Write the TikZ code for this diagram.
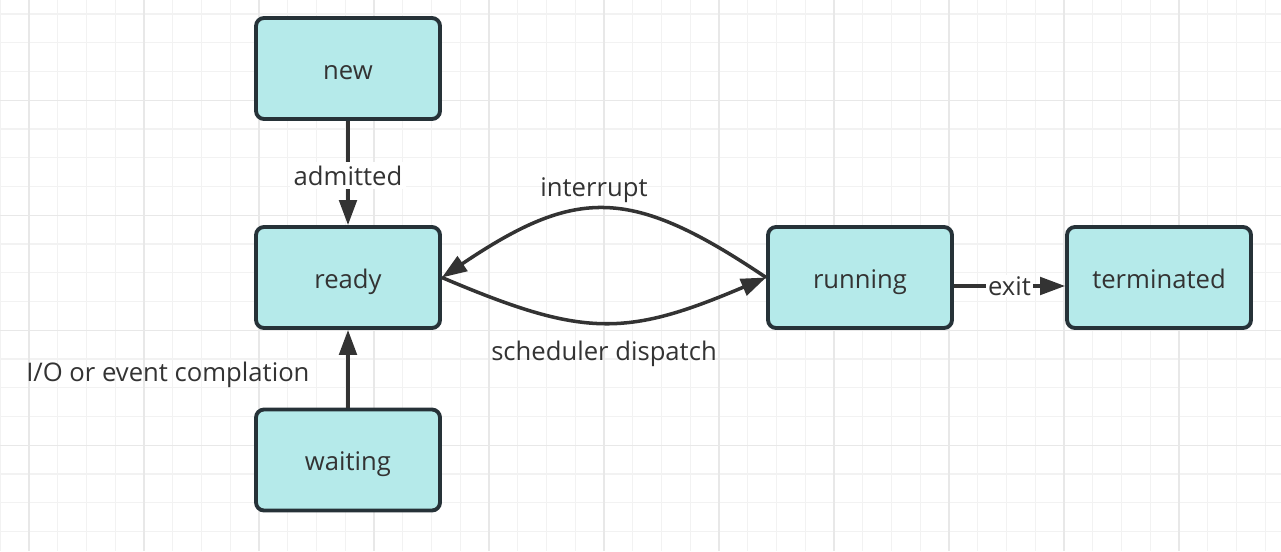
\documentclass[tikz,border=0pt]{standalone}
\usepackage{fontspec}
\setmainfont{Open Sans}
\usetikzlibrary{arrows.meta,positioning}

\definecolor{boxfill}{HTML}{B5EAEA}
\definecolor{boxline}{HTML}{263238}
\definecolor{edgecol}{HTML}{333333}
\definecolor{gridminor}{HTML}{F2F2F2}
\definecolor{gridmajor}{HTML}{E8E8E8}

\tikzset{
  state/.style={draw=boxline, fill=boxfill, line width=2.2pt, rounded corners=0.16cm,
    minimum width=3.68cm, minimum height=2.02cm, text height=13pt, text depth=1pt,
    text=edgecol, font=\fontsize{14.6}{17}\selectfont},
  trans/.style={draw=edgecol, line width=2pt, -{Triangle[length=0.5cm,width=0.35cm]}},
  lbl/.style={text=edgecol, font=\fontsize{14.6}{17}\selectfont, inner sep=1pt},
}

\begin{document}
\begin{tikzpicture}[x=0.02cm, y=-0.02cm]
% Page and background
\useasboundingbox (0,0) rectangle (1281,551);
\fill[white] (0,0) rectangle (1281,551);

% Grid
\def\cell{28.75}
\foreach \k in {-1,...,43} {
  \pgfmathsetmacro{\gx}{29+\k*\cell}
  \draw[gridminor, line width=0.6pt] (\gx,0) -- (\gx,551);
}
\foreach \k in {0,...,18} {
  \pgfmathsetmacro{\gy}{14+\k*\cell}
  \draw[gridminor, line width=0.6pt] (0,\gy) -- (1281,\gy);
}
\foreach \k in {0,4,...,40} {
  \pgfmathsetmacro{\gx}{29+\k*\cell}
  \draw[gridmajor, line width=0.6pt] (\gx,0) -- (\gx,551);
}
\foreach \k in {3,7,11,15} {
  \pgfmathsetmacro{\gy}{14+\k*\cell}
  \draw[gridmajor, line width=0.6pt] (0,\gy) -- (1281,\gy);
}

% States
\node[state] (new) at (348,68.5) {new};
\node[state] (ready) at (348,277.5) {ready};
\node[state] (waiting) at (348,460) {waiting};
\node[state] (running) at (860,277.5) {running};
\node[state] (terminated) at (1159,277.5) {terminated};

% Transitions
\draw[trans] (new) -- (ready) node[midway, lbl, fill=white, inner sep=2pt, yshift=-0.05cm] (admitLbl) {admitted};
\draw[trans] (waiting) -- (ready) node[midway, left=0.7cm, yshift=-0.12cm, lbl] (ioLbl) {I/O or event complation};
\draw[trans] (ready.east) .. controls +(141,60) and +(-141,60) .. (running.west)
  node[pos=0.5, below=0.3cm, lbl] (dispatchLbl) {scheduler dispatch};
\draw[trans] (running.west) .. controls +(-135,-91) and +(135,-91) .. (ready.east)
  node[pos=0.5, above=0.06cm, xshift=-0.2cm, lbl] (interruptLbl) {interrupt};
\draw[trans] ([yshift=-0.17cm]running.east) -- ([yshift=-0.17cm]terminated.west)
  node[midway, lbl, fill=white] (exitLbl) {exit};

\end{tikzpicture}
\end{document}
